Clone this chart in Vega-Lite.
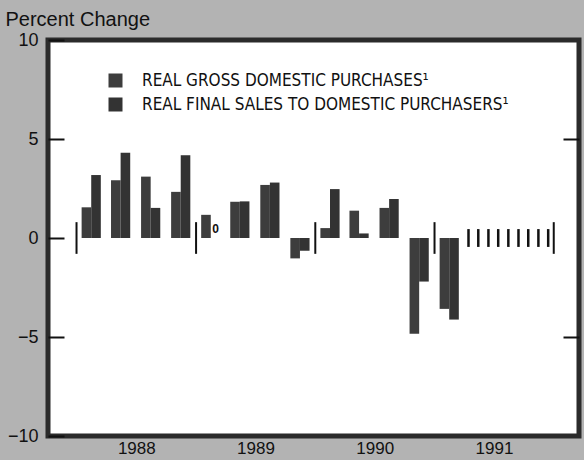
{
  "$schema": "https://vega.github.io/schema/vega-lite/v6.json",
  "autosize": "none",
  "width": 531,
  "height": 396,
  "padding": {"left": 48, "top": 40, "right": 5, "bottom": 24},
  "background": "#b3b3b3",
  "view": {"fill": "white", "stroke": "#2b2b2b", "strokeWidth": 5},
  "config": {
    "font": "Liberation Sans",
    "axis": {"grid": false, "labelColor": "#111", "titleColor": "#111"}
  },
  "datasets": {
    "bars": [
      {"date": "1988-02-15", "series": "REAL GROSS DOMESTIC PURCHASES¹", "value": 1.55},
      {"date": "1988-02-15", "series": "REAL FINAL SALES TO DOMESTIC PURCHASERS¹", "value": 3.18},
      {"date": "1988-05-15", "series": "REAL GROSS DOMESTIC PURCHASES¹", "value": 2.92},
      {"date": "1988-05-15", "series": "REAL FINAL SALES TO DOMESTIC PURCHASERS¹", "value": 4.3},
      {"date": "1988-08-15", "series": "REAL GROSS DOMESTIC PURCHASES¹", "value": 3.1},
      {"date": "1988-08-15", "series": "REAL FINAL SALES TO DOMESTIC PURCHASERS¹", "value": 1.52},
      {"date": "1988-11-15", "series": "REAL GROSS DOMESTIC PURCHASES¹", "value": 2.33},
      {"date": "1988-11-15", "series": "REAL FINAL SALES TO DOMESTIC PURCHASERS¹", "value": 4.18},
      {"date": "1989-02-15", "series": "REAL GROSS DOMESTIC PURCHASES¹", "value": 1.17},
      {"date": "1989-02-15", "series": "REAL FINAL SALES TO DOMESTIC PURCHASERS¹", "value": 0},
      {"date": "1989-05-15", "series": "REAL GROSS DOMESTIC PURCHASES¹", "value": 1.83},
      {"date": "1989-05-15", "series": "REAL FINAL SALES TO DOMESTIC PURCHASERS¹", "value": 1.85},
      {"date": "1989-08-15", "series": "REAL GROSS DOMESTIC PURCHASES¹", "value": 2.68},
      {"date": "1989-08-15", "series": "REAL FINAL SALES TO DOMESTIC PURCHASERS¹", "value": 2.8},
      {"date": "1989-11-15", "series": "REAL GROSS DOMESTIC PURCHASES¹", "value": -1.03},
      {"date": "1989-11-15", "series": "REAL FINAL SALES TO DOMESTIC PURCHASERS¹", "value": -0.65},
      {"date": "1990-02-15", "series": "REAL GROSS DOMESTIC PURCHASES¹", "value": 0.5},
      {"date": "1990-02-15", "series": "REAL FINAL SALES TO DOMESTIC PURCHASERS¹", "value": 2.47},
      {"date": "1990-05-15", "series": "REAL GROSS DOMESTIC PURCHASES¹", "value": 1.38},
      {"date": "1990-05-15", "series": "REAL FINAL SALES TO DOMESTIC PURCHASERS¹", "value": 0.23},
      {"date": "1990-08-15", "series": "REAL GROSS DOMESTIC PURCHASES¹", "value": 1.52},
      {"date": "1990-08-15", "series": "REAL FINAL SALES TO DOMESTIC PURCHASERS¹", "value": 1.97},
      {"date": "1990-11-15", "series": "REAL GROSS DOMESTIC PURCHASES¹", "value": -4.83},
      {"date": "1990-11-15", "series": "REAL FINAL SALES TO DOMESTIC PURCHASERS¹", "value": -2.2},
      {"date": "1991-02-15", "series": "REAL GROSS DOMESTIC PURCHASES¹", "value": -3.58},
      {"date": "1991-02-15", "series": "REAL FINAL SALES TO DOMESTIC PURCHASERS¹", "value": -4.12}
    ],
    "years": [
      {"date": "1988-01-01"}, {"date": "1989-01-01"}, {"date": "1990-01-01"},
      {"date": "1991-01-01"}, {"date": "1992-01-01"}
    ],
    "months": [
      {"date": "1991-04-15"}, {"date": "1991-05-15"}, {"date": "1991-06-15"},
      {"date": "1991-07-15"}, {"date": "1991-08-15"}, {"date": "1991-09-15"},
      {"date": "1991-10-15"}, {"date": "1991-11-15"}, {"date": "1991-12-15"}
    ]
  },
  "resolve": {"axis": {"y": "independent", "x": "independent"}},
  "layer": [
    {
      "data": {"name": "bars"},
      "transform": [{"filter": "datum.series === 'REAL GROSS DOMESTIC PURCHASES¹'"}],
      "mark": {"type": "bar", "width": 9.6, "xOffset": -4.8},
      "encoding": {
        "x": {
          "field": "date", "type": "temporal",
          "scale": {"domain": ["1987-10-21", "1992-03-03"]},
          "axis": {
            "orient": "bottom", "title": null, "values": ["1988-07-02", "1989-07-02", "1990-07-02", "1991-07-02"],
            "format": "%Y", "ticks": false, "domain": false, "labelFontSize": 17, "labelPadding": 4
          }
        },
        "y": {
          "field": "value", "type": "quantitative", "stack": null,
          "scale": {"domain": [-10, 10], "nice": false},
          "axis": {
            "orient": "left", "values": [-10, -5, 0, 5, 10], "tickSize": -16, "tickWidth": 2, "tickColor": "#111",
            "domain": false, "labelFontSize": 18, "labelPadding": 26,
            "title": "Percent Change", "titleAngle": 0, "titleAlign": "left", "titleBaseline": "alphabetic",
            "titleX": -43, "titleY": -15, "titleFontSize": 20, "titleFontWeight": "normal"
          }
        },
        "y2": {"datum": 0},
        "color": {
          "field": "series", "type": "nominal",
          "scale": {
            "domain": ["REAL GROSS DOMESTIC PURCHASES¹", "REAL FINAL SALES TO DOMESTIC PURCHASERS¹"],
            "range": ["#3d3d3d", "#333333"]
          },
          "legend": {
            "orient": "none", "legendX": 59, "legendY": 32, "title": null,
            "symbolType": "square", "symbolSize": 196, "symbolStrokeWidth": 0,
            "labelFont": "DejaVu Sans Condensed, Liberation Sans", "labelFontSize": 17, "labelColor": "#111",
            "labelLimit": 0, "labelOffset": 18, "rowPadding": 6
          }
        }
      }
    },
    {
      "data": {"name": "bars"},
      "transform": [{"filter": "datum.series === 'REAL FINAL SALES TO DOMESTIC PURCHASERS¹'"}],
      "mark": {"type": "bar", "width": 9.6, "xOffset": 4.8},
      "encoding": {
        "x": {"field": "date", "type": "temporal", "axis": null},
        "y": {
          "field": "value", "type": "quantitative", "stack": null,
          "axis": {"orient": "right", "values": [-5, 5], "tickSize": -16, "tickWidth": 2, "tickColor": "#111", "labels": false, "domain": false, "title": null}
        },
        "y2": {"datum": 0},
        "color": {"field": "series", "type": "nominal"}
      }
    },
    {
      "data": {"name": "bars"},
      "transform": [{"filter": "datum.series === 'REAL FINAL SALES TO DOMESTIC PURCHASERS¹' && datum.value === 0"}],
      "mark": {"type": "text", "xOffset": 4.8, "dy": -9, "fontSize": 12, "fontWeight": "bold", "color": "#111"},
      "encoding": {
        "x": {"field": "date", "type": "temporal", "axis": null},
        "y": {"field": "value", "type": "quantitative", "axis": null},
        "text": {"field": "value", "type": "quantitative"}
      }
    },
    {
      "mark": {"type": "rule", "color": "#111", "strokeWidth": 2},
      "encoding": {"y": {"datum": 0, "axis": null}}
    },
    {
      "data": {"name": "years"},
      "mark": {"type": "rule", "color": "#111", "strokeWidth": 2},
      "encoding": {
        "x": {"field": "date", "type": "temporal", "axis": null},
        "y": {"datum": -0.8, "axis": null},
        "y2": {"datum": 0.8}
      }
    },
    {
      "data": {"name": "months"},
      "mark": {"type": "rule", "color": "#111", "strokeWidth": 2.5},
      "encoding": {
        "x": {"field": "date", "type": "temporal", "axis": null},
        "y": {"datum": -0.45, "axis": null},
        "y2": {"datum": 0.45}
      }
    }
  ]
}
